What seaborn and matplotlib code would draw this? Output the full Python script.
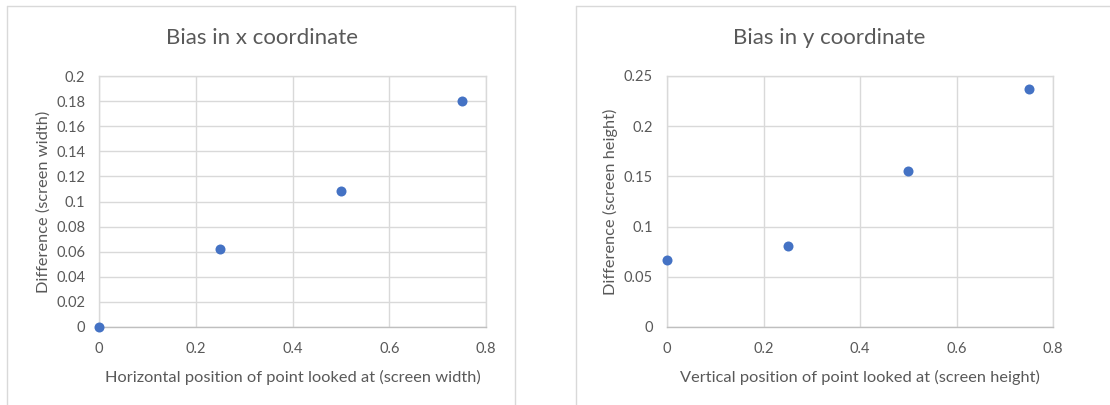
import matplotlib
matplotlib.use("Agg")
import matplotlib.pyplot as plt
from matplotlib.lines import Line2D
from matplotlib.ticker import FuncFormatter, MultipleLocator
import seaborn as sns
import pandas as pd

# data
position = [0, 0.25, 0.5, 0.75]
bias_x = [0.0, 0.062, 0.108, 0.180]
bias_y = [0.067, 0.081, 0.155, 0.237]

titles = ["Bias in x coordinate", "Bias in y coordinate"]
xlabels = ["Horizontal position of point looked at (screen width)",
           "Vertical position of point looked at (screen height)"]
ylabels = ["Difference (screen width)", "Difference (screen height)"]
ymax = [0.2, 0.25]
ystep = [0.02, 0.05]

sns.set_theme(style="white")
plt.rcParams["font.family"] = ["Lato", "DejaVu Sans"]

text_col = "#595959"
grid_col = "#d9d9d9"
dot_col = "#4472c4"

W, H = 1110, 405
fig = plt.figure(figsize=(W / 100, H / 100), dpi=100)
fig.patch.set_facecolor("white")

# plot areas in pixels: left, top, right, bottom
areas = [(99, 76, 486, 327), (667, 76, 1053, 327)]
title_x = [262, 829]

for i, series in enumerate([bias_x, bias_y]):
    l, t, r, b = areas[i]
    ax = fig.add_axes([l / W, 1 - b / H, (r - l) / W, (b - t) / H])
    df = pd.DataFrame({"pos": position, "diff": series})
    sns.scatterplot(data=df, x="pos", y="diff", ax=ax, color=dot_col,
                    s=52, linewidth=0, clip_on=False, zorder=5)

    ax.set_xlim(0, 0.8)
    ax.set_ylim(0, ymax[i])
    ax.xaxis.set_major_locator(MultipleLocator(0.2))
    ax.yaxis.set_major_locator(MultipleLocator(ystep[i]))
    fmt = FuncFormatter(lambda v, p: f"{round(v, 4):g}")
    ax.xaxis.set_major_formatter(fmt)
    ax.yaxis.set_major_formatter(fmt)

    ax.grid(True, color=grid_col, linewidth=1)
    ax.set_axisbelow(True)
    for side in ["left", "top", "right"]:
        ax.spines[side].set_color(grid_col)
        ax.spines[side].set_linewidth(1)
    ax.spines["bottom"].set_color("#bfbfbf")
    ax.spines["bottom"].set_linewidth(1)

    ax.tick_params(axis="both", length=0, labelsize=10.5, colors=text_col)
    ax.tick_params(axis="x", pad=11)
    ax.tick_params(axis="y", pad=10)

    ax.set_xlabel(xlabels[i], fontsize=11.8, color=text_col, labelpad=10)
    ax.set_ylabel(ylabels[i], fontsize=11.8, color=text_col, labelpad=4)

    fig.text(title_x[i] / W, 1 - 38 / H, titles[i], ha="center", va="center",
             fontsize=16, color=text_col)

# chart area borders like the Excel charts
border = "#d9d9d9"
for x0, x1 in [(7, 515), (576, 1115)]:
    fig.add_artist(Line2D([x0 / W, x1 / W], [1 - 6 / H, 1 - 6 / H],
                          transform=fig.transFigure, color=border, lw=1))
    fig.add_artist(Line2D([x0 / W, x0 / W], [1 - 6 / H, 0],
                          transform=fig.transFigure, color=border, lw=1))
    if x1 < W:
        fig.add_artist(Line2D([x1 / W, x1 / W], [1 - 6 / H, 0],
                              transform=fig.transFigure, color=border, lw=1))

fig.savefig("out.png", dpi=100, facecolor="white")
